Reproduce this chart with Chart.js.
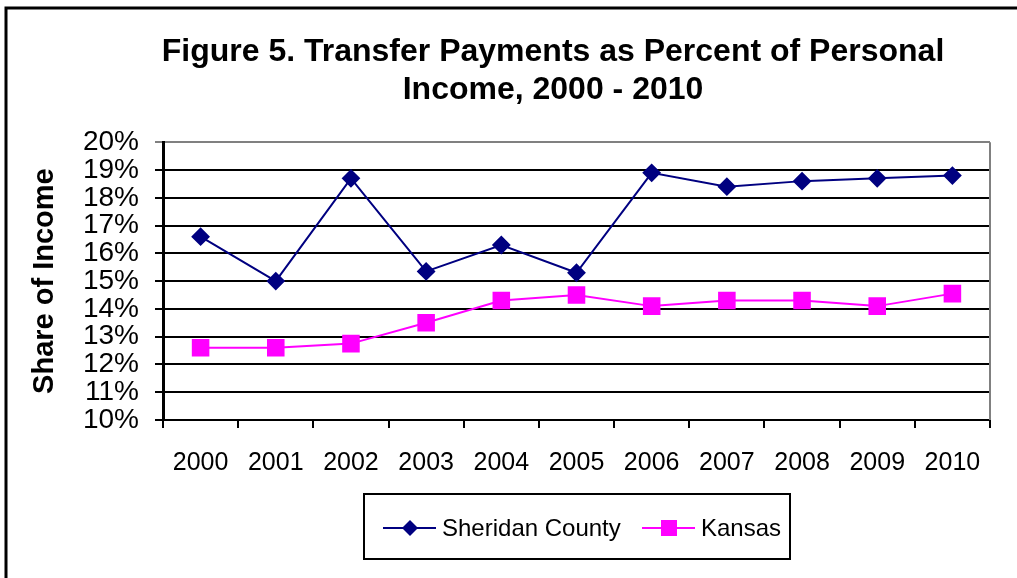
<!DOCTYPE html>
<html>
<head>
<meta charset="utf-8">
<script src="https://cdn.jsdelivr.net/npm/chart.js@4/dist/chart.umd.min.js"></script>
<style>
  html, body { margin: 0; padding: 0; background: #fff; }
  #wrap { width: 1017px; height: 578px; }
</style>
</head>
<body>
<div id="wrap"><canvas id="myChart" width="1017" height="578"></canvas></div>
<script>
// values
const years = ["2000", "2001", "2002", "2003", "2004", "2005", "2006", "2007", "2008", "2009", "2010"];
const sheridanCounty = [16.6, 15.0, 18.7, 15.35, 16.3, 15.3, 18.9, 18.4, 18.6, 18.7, 18.8];
const kansas = [12.6, 12.6, 12.75, 13.5, 14.3, 14.5, 14.1, 14.3, 14.3, 14.1, 14.55];
const titleLines = ["Figure 5. Transfer Payments as Percent of Personal", "Income, 2000 - 2010"];
const yAxisTitle = "Share of Income";

const FONT = "'Liberation Sans', Arial, sans-serif";

// outer frame, gray plot border and the boxed legend
const framePlugin = {
  id: "frame",
  afterLayout: (chart) => {
    // title sits a bit right of the canvas centre in the original
    if (chart.titleBlock) {
      chart.titleBlock.left = 116;
      chart.titleBlock.right = 990;
    }
  },
  beforeDraw: (chart) => {
    const ctx = chart.ctx;
    ctx.save();
    ctx.fillStyle = "#fff";
    ctx.fillRect(0, 0, chart.width, chart.height);
    ctx.restore();
  },
  afterDraw: (chart) => {
    const ctx = chart.ctx;
    const area = chart.chartArea;
    ctx.save();
    // outer border
    ctx.strokeStyle = "#000";
    ctx.lineWidth = 3;
    ctx.beginPath();
    ctx.moveTo(6, chart.height + 2);
    ctx.lineTo(6, 8);
    ctx.lineTo(chart.width + 2, 8);
    ctx.stroke();

    // right side of plot area
    ctx.strokeStyle = "#808080";
    ctx.lineWidth = 2;
    ctx.beginPath();
    ctx.moveTo(area.right, area.top);
    ctx.lineTo(area.right, area.bottom);
    ctx.stroke();

    // legend box
    ctx.strokeStyle = "#000";
    ctx.lineWidth = 2;
    ctx.strokeRect(364, 494, 426, 65);

    let x = 383;
    const y = 528;
    ctx.font = "24px " + FONT;
    ctx.textBaseline = "middle";
    ctx.textAlign = "left";
    chart.data.datasets.forEach((ds, i) => {
      ctx.strokeStyle = ds.borderColor;
      ctx.lineWidth = 2;
      ctx.beginPath();
      ctx.moveTo(x, y);
      ctx.lineTo(x + 53, y);
      ctx.stroke();
      ctx.fillStyle = ds.borderColor;
      const cx = x + 27;
      if (ds.pointStyle === "rectRot") {
        ctx.beginPath();
        ctx.moveTo(cx, y - 8);
        ctx.lineTo(cx + 8, y);
        ctx.lineTo(cx, y + 8);
        ctx.lineTo(cx - 8, y);
        ctx.closePath();
        ctx.fill();
      } else {
        ctx.fillRect(cx - 8, y - 8, 16, 16);
      }
      ctx.fillStyle = "#000";
      ctx.fillText(ds.label, x + 59, y + 1);
      x = 642;
    });
    ctx.restore();
  },
};

new Chart("myChart", {
  type: "line",
  data: {
    labels: years,
    datasets: [
      {
        label: "Sheridan County",
        data: sheridanCounty,
        borderColor: "#000080",
        backgroundColor: "#000080",
        pointBackgroundColor: "#000080",
        pointBorderColor: "#000080",
        pointStyle: "rectRot",
        pointRadius: 8,
        borderWidth: 2,
        tension: 0,
      },
      {
        label: "Kansas",
        data: kansas,
        borderColor: "#FF00FF",
        backgroundColor: "#FF00FF",
        pointBackgroundColor: "#FF00FF",
        pointBorderColor: "#FF00FF",
        pointStyle: "rect",
        pointRadius: 11,
        borderWidth: 2,
        tension: 0,
      },
    ],
  },
  options: {
    responsive: false,
    animation: false,
    devicePixelRatio: 1,
    layout: { padding: { top: 0, left: 16, right: 27, bottom: 0 } },
    plugins: {
      legend: { display: false },
      tooltip: { enabled: false },
      title: {
        display: true,
        text: titleLines,
        color: "#000",
        font: { family: FONT, size: 32, weight: "bold", lineHeight: 1.16 },
        padding: { top: 34, bottom: 34 },
      },
    },
    scales: {
      x: {
        offset: true,
        grid: {
          offset: true,
          drawOnChartArea: false,
          drawTicks: true,
          tickLength: 8,
          color: "#000",
          lineWidth: 2,
        },
        border: { color: "#000", width: 2 },
        ticks: {
          color: "#000",
          font: { family: FONT, size: 25 },
          padding: 20,
          maxRotation: 0,
        },
        afterFit: (scale) => {
          scale.height = 158;
        },
      },
      y: {
        min: 10,
        max: 20,
        ticks: {
          stepSize: 1,
          autoSkip: false,
          color: "#000",
          font: { family: FONT, size: 28 },
          padding: 16,
          callback: (v) => v + "%",
        },
        grid: {
          color: (c) => (c.tick && c.tick.value === 20 ? "#808080" : "#000"),
          lineWidth: 2,
          tickLength: 8,
        },
        border: { color: "#000", width: 3 },
        title: {
          display: true,
          text: yAxisTitle,
          color: "#000",
          font: { family: FONT, size: 29, weight: "bold", lineHeight: 1.2 },
          padding: { top: 12, bottom: 0 },
        },
        afterFit: (scale) => {
          scale.width = 147;
        },
      },
    },
  },
  plugins: [framePlugin],
});
</script>
</body>
</html>
